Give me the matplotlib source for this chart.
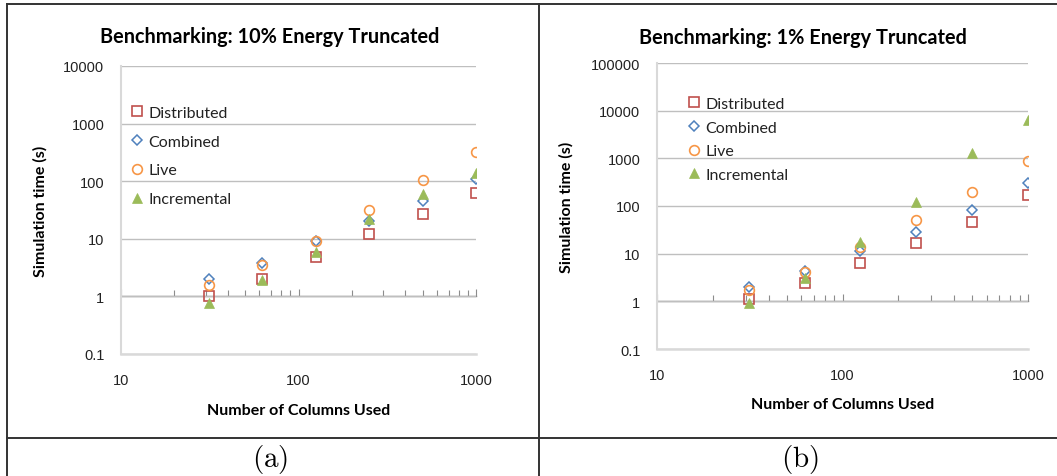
import matplotlib
matplotlib.use('Agg')
import matplotlib.pyplot as plt
from matplotlib.lines import Line2D
from matplotlib.ticker import LogLocator, NullFormatter

plt.rcParams['mathtext.fontset'] = 'cm'

# ========== 数据 ==========
cols = [31.25, 62.5, 125, 250, 500, 1000]
series_names = ['Distributed', 'Combined', 'Live', 'Incremental']

a_dist = [1.03, 2.0, 4.8, 12.1, 26.5, 63]
a_comb = [1.97, 3.85, 9.1, 20, 45, 110]
a_live = [1.6, 3.5, 9.3, 32, 103, 320]
a_incr = [0.78, 1.9, 5.9, 21.7, 60, 137]

b_dist = [1.1, 2.4, 6.5, 17, 47, 174]
b_comb = [2.03, 4.27, 11.6, 28, 82, 302]
b_live = [1.73, 4.07, 14, 51, 195, 890]
b_incr = [0.93, 3.1, 17.8, 120, 1280, 6400]

a_yticks = [0.1, 1, 10, 100, 1000, 10000]
b_yticks = [0.1, 1, 10, 100, 1000, 10000, 100000]
xticks = [10, 100, 1000]

titles = ['Benchmarking: 10% Energy Truncated', 'Benchmarking: 1% Energy Truncated']
captions = [r'$\mathrm{(a)}$', r'$\mathrm{(b)}$']

# ========== 样式 ==========
W, H = 1057, 477
red, blue, orange, green = '#C0504D', '#4F81BD', '#F79646', '#9BBB59'
styles = [
    dict(marker='s', mfc='none', mec=red, ms=7, mew=1.2),
    dict(marker='D', mfc='none', mec=blue, ms=5, mew=1.1),
    dict(marker='o', mfc='none', mec=orange, ms=7, mew=1.2),
    dict(marker='^', mfc=green, mec=green, ms=7, mew=0.5),
]
label_font = 'Lato'
tick_font = 'Liberation Sans'

fig = plt.figure(figsize=(W / 100, H / 100), dpi=100)


def px_axes(left, top, right, bottom):
    return fig.add_axes([left / W, 1 - bottom / H, (right - left) / W, (bottom - top) / H])


def draw_panel(ax, data, yticks, title, tcx, tcy, one_frac, leg_anchor, leg_spacing,
               ylab_x, xlab_y):
    ax.set_xscale('log')
    ax.set_yscale('log')
    for vals, name, st in zip(data, series_names, styles):
        ax.plot(cols, vals, linestyle='none', label=name, **st)
    ax.set_xlim(10, 1000)
    ax.set_ylim(yticks[0], yticks[-1])
    ax.set_yticks(yticks)
    ax.set_yticklabels(['{:g}'.format(v) for v in yticks])
    ax.set_xticks(xticks)
    ax.set_xticklabels([str(v) for v in xticks])
    ax.minorticks_off()
    ax.tick_params(length=0, labelsize=10.5, labelcolor='#222222')
    ax.tick_params(axis='y', pad=12)
    ax.tick_params(axis='x', pad=14)
    for lab in ax.get_xticklabels() + ax.get_yticklabels():
        lab.set_fontfamily(tick_font)
    ax.grid(axis='y', color='#bfbfbf', linewidth=1.0)
    ax.set_axisbelow(True)
    for s in ['top', 'right']:
        ax.spines[s].set_visible(False)
    ax.spines['left'].set_color('#d9d9d9')
    ax.spines['bottom'].set_color('#d9d9d9')
    ax.spines['left'].set_linewidth(1.5)
    ax.spines['bottom'].set_linewidth(1.8)

    # 横轴穿过 y=1
    sec = ax.secondary_xaxis(one_frac)
    sec.spines['bottom'].set_color('#8c8c8c')
    sec.spines['bottom'].set_linewidth(1.0)
    sec.xaxis.set_major_locator(LogLocator(base=10))
    sec.xaxis.set_minor_locator(LogLocator(base=10, subs=range(2, 10)))
    sec.xaxis.set_major_formatter(NullFormatter())
    sec.xaxis.set_minor_formatter(NullFormatter())
    sec.tick_params(which='both', direction='in', color='#8c8c8c', width=0.8)
    sec.tick_params(which='major', length=5)
    sec.tick_params(which='minor', length=4)

    ax.set_ylabel('Simulation time (s)', fontfamily=label_font, fontweight='bold', fontsize=11.5)
    ax.yaxis.set_label_coords(ylab_x, 0.5)
    ax.set_xlabel('Number of Columns Used', fontfamily=label_font, fontweight='bold', fontsize=11.5)
    ax.xaxis.set_label_coords(0.5, xlab_y)

    leg = ax.legend(loc='upper left', bbox_to_anchor=leg_anchor, frameon=False,
                    handlelength=0.8, handletextpad=0.3, labelspacing=leg_spacing,
                    borderaxespad=0, prop={'family': label_font, 'size': 11.5})
    for t in leg.get_texts():
        t.set_color('#222222')

    fig.text(tcx / W, 1 - tcy / H, title, ha='center', va='center',
             fontfamily=label_font, fontweight='bold', fontsize=14.3)


ax_a = px_axes(121, 67, 476, 355)
draw_panel(ax_a, [a_dist, a_comb, a_live, a_incr], a_yticks, titles[0], 270, 37,
           1 / 5, (0.009, 0.885), 0.92, -0.206, -0.17)

ax_b = px_axes(657, 64, 1028, 350)
draw_panel(ax_b, [b_dist, b_comb, b_live, b_incr], b_yticks, titles[1], 803, 38,
           1 / 6, (0.065, 0.905), 0.6, -0.226, -0.168)

# ========== 表格边框 ==========
frame_color = '#333333'
def fline(x0, y0, x1, y1, lw=1.4):
    fig.add_artist(Line2D([x0 / W, x1 / W], [1 - y0 / H, 1 - y1 / H],
                          color=frame_color, linewidth=lw))

fline(7, 5, W, 5)
fline(7, 5, 7, H)
fline(538.5, 5, 538.5, H)
fline(7, 439, W, 439)

fig.text(270 / W, 1 - 460 / H, captions[0], ha='center', va='center', fontsize=21)
fig.text(800 / W, 1 - 460 / H, captions[1], ha='center', va='center', fontsize=21)

fig.savefig('out.png', dpi=100)
